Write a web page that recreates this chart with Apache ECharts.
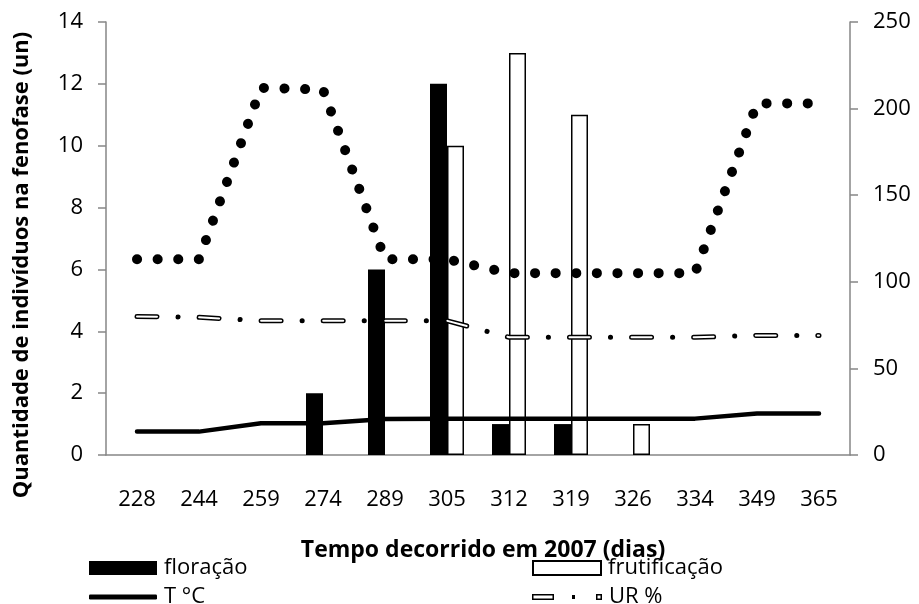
<!DOCTYPE html>
<html>
<head>
<meta charset="utf-8">
<script src="https://cdn.jsdelivr.net/npm/echarts@6/dist/echarts.min.js"></script>
<style>
  html, body { margin: 0; padding: 0; background: #ffffff; }
  #grafico { width: 919px; height: 604px; }
</style>
</head>
<body>
<div id="grafico"></div>
<script>
// dias do ano (2007)
var dias = ["228", "244", "259", "274", "289", "305", "312", "319", "326", "334", "349", "365"];
// número de indivíduos por fenofase (eixo esquerdo)
var floracao = ["-", "-", "-", 2, 6, 12, 1, 1, "-", "-", "-", "-"];
var frutificacao = ["-", "-", "-", "-", "-", 10, 13, 11, 1, "-", "-", "-"];
// clima (eixo direito)
var temperatura = [13.5, 13.5, 18.3, 18.3, 20.8, 21, 21, 21, 21, 21, 24, 24];
var umidade = [80, 79.5, 77.5, 77.5, 77.5, 77.5, 68, 68, 68, 68, 69, 69];
var pontilhado = [113, 113, 212, 211, 113, 113, 105, 105, 105, 105, 203, 203];
var ticksEsq = [0, 14, 2];
var ticksDir = [0, 250, 50];

var fonte = "'Open Sans', 'DejaVu Sans', sans-serif";
var cinza = "#868686";

// ícone da legenda da UR: traço vazado, ponto e bolinha vazada
var iconeUR = "path://M0,0L22,0L22,6L0,6Z M1.5,1.5L1.5,4.5L20.5,4.5L20.5,1.5Z" +
  " M40,1L43,1L43,5L40,5Z" +
  " M64,0L70,0L70,6L64,6Z M65.5,1.5L65.5,4.5L68.5,4.5L68.5,1.5Z";

var myChart = echarts.init(document.getElementById("grafico"));

function eixoY(t, pos) {
  return {
    type: "value",
    position: pos,
    min: t[0],
    max: t[1],
    interval: t[2],
    splitLine: { show: false },
    axisLine: { show: true, lineStyle: { color: cinza, width: 1.5 } },
    axisTick: { show: true, length: 8, lineStyle: { color: cinza, width: 1.5 } },
    axisLabel: { color: "#000", fontSize: 22, fontFamily: fonte, margin: 23 }
  };
}

function legenda(nome, x, y, extra) {
  var l = {
    data: [nome],
    left: x,
    top: y,
    z: 2,
    padding: 0,
    itemWidth: 68,
    itemHeight: 14,
    selectedMode: false,
    textStyle: { color: "#000", fontSize: 22, fontFamily: fonte, padding: [0, 0, 0, 2] }
  };
  return Object.assign(l, extra || {});
}

myChart.setOption({
  animation: false,
  grid: { left: 106, right: 69, top: 22, bottom: 149 },
  legend: [
    legenda("floração", 89, 557, { icon: "rect" }),
    legenda("frutificação", 532, 557, { icon: "rect" }),
    legenda("T °C", 89, 586, { icon: "roundRect", itemHeight: 5, itemStyle: { color: "#000" } }),
    legenda("UR %", 532, 586, { icon: iconeUR, itemWidth: 70, itemHeight: 6, itemStyle: { color: "#000" } })
  ],
  xAxis: {
    type: "category",
    data: dias,
    axisLine: { lineStyle: { color: cinza, width: 1.5 } },
    axisTick: { length: 7, lineStyle: { color: cinza, width: 1.5 } },
    axisLabel: { color: "#000", fontSize: 22, fontFamily: fonte, margin: 34 }
  },
  yAxis: [eixoY(ticksEsq, "left"), eixoY(ticksDir, "right")],
  graphic: [
    {
      type: "text",
      x: 22,
      y: 265,
      rotation: Math.PI / 2,
      style: {
        text: "Quantidade de indivíduos na fenofase (un)",
        font: "bold 22px " + fonte,
        fill: "#000",
        align: "center",
        verticalAlign: "middle"
      }
    },
    {
      // título do eixo x por cima da legenda, como no original
      type: "text",
      x: 483,
      y: 550,
      z: 100,
      style: {
        text: "Tempo decorrido em 2007 (dias)",
        font: "bold 23px " + fonte,
        fill: "#000",
        align: "center",
        verticalAlign: "middle"
      }
    }
  ],
  series: [
    {
      name: "floração",
      type: "bar",
      data: floracao,
      barWidth: 17,
      barGap: "0%",
      itemStyle: { color: "#000" }
    },
    {
      name: "frutificação",
      type: "bar",
      data: frutificacao,
      barWidth: 17,
      itemStyle: { color: "#fff", borderColor: "#000", borderWidth: 1.5 }
    },
    {
      name: "pontilhado",
      type: "line",
      yAxisIndex: 1,
      data: pontilhado,
      symbol: "none",
      itemStyle: { color: "#000" },
      lineStyle: { color: "#000", width: 10, cap: "round", type: [0.1, 20.5] }
    },
    {
      name: "T °C",
      type: "line",
      yAxisIndex: 1,
      data: temperatura,
      symbol: "none",
      itemStyle: { color: "#000" },
      lineStyle: { color: "#000", width: 4.5, cap: "round", join: "round" }
    },
    {
      name: "UR %",
      type: "line",
      yAxisIndex: 1,
      data: umidade,
      symbol: "none",
      itemStyle: { color: "#000" },
      lineStyle: { color: "#000", width: 5, cap: "round", type: [20, 21, 0.1, 21] }
    },
    {
      // miolo branco dos traços da UR
      name: "UR miolo",
      type: "line",
      yAxisIndex: 1,
      data: umidade,
      symbol: "none",
      silent: true,
      lineStyle: { color: "#fff", width: 2, cap: "round", type: [20, 42.1] }
    }
  ]
});
</script>
</body>
</html>
